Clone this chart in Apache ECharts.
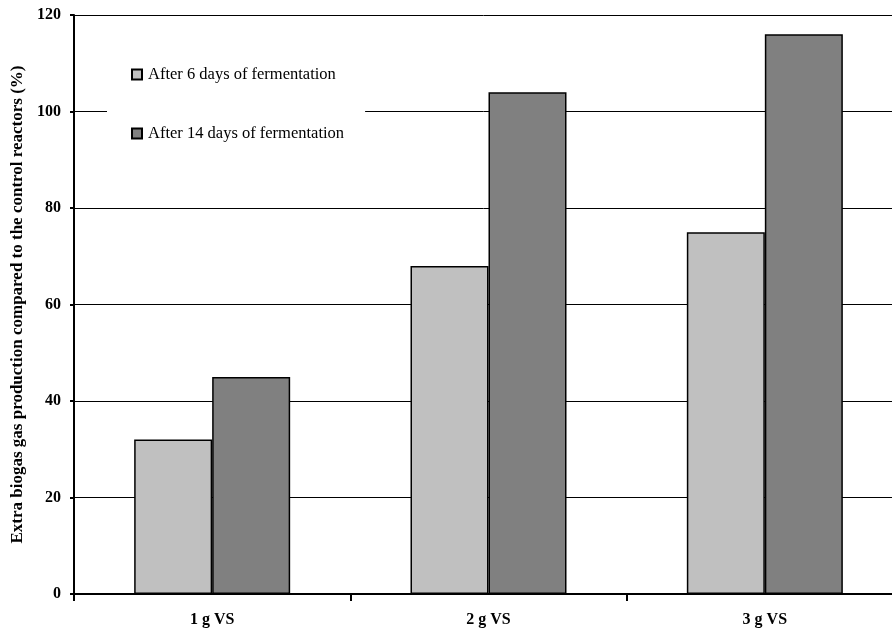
<!DOCTYPE html>
<html><head><meta charset="utf-8">
<script src="https://cdn.jsdelivr.net/npm/echarts@6/dist/echarts.min.js"></script>
<style>html,body{margin:0;padding:0;background:#fff}#c{width:892px;height:633px}</style>
</head><body><div id="c"></div>
<script>
const categories = ['1 g VS', '2 g VS', '3 g VS'];
const after6 = [32, 68, 75];
const after14 = [45, 104, 116];
const seriesNames = ['After 6 days of fermentation', 'After 14 days of fermentation'];
const yName = 'Extra biogas gas production compared to the control reactors (%)';

const font = "'Liberation Serif','Times New Roman',serif";
const chart = echarts.init(document.getElementById('c'), null, {renderer: 'canvas'});
chart.setOption({
  animation: false,
  backgroundColor: '#fff',
  textStyle: {fontFamily: font},
  grid: {left: 74, top: 15, right: -11, bottom: 39, containLabel: false, outerBoundsMode: 'none'},
  legend: {
    orient: 'vertical', left: 107, top: 52,
    backgroundColor: '#fff',
    padding: [14, 21, 14, 24],
    itemGap: 42, itemWidth: 10, itemHeight: 10,
    icon: 'rect',
    itemStyle: {borderColor: '#000', borderWidth: 2},
    textStyle: {fontFamily: font, fontSize: 16.5, color: '#000', padding: [0, 0, 0, 1]},
    data: seriesNames
  },
  xAxis: {
    type: 'category', data: categories,
    axisLine: {lineStyle: {color: '#000', width: 2}},
    axisTick: {show: true, length: 7, lineStyle: {color: '#000', width: 2}},
    axisLabel: {fontFamily: font, fontWeight: 'bold', fontSize: 16, color: '#000', margin: 18}
  },
  yAxis: {
    type: 'value', min: 0, max: 120, interval: 20,
    name: yName, nameLocation: 'middle', nameGap: 46,
    nameTextStyle: {fontFamily: font, fontWeight: 'bold', fontSize: 17, color: '#000'},
    axisLine: {show: true, lineStyle: {color: '#000', width: 2}},
    axisTick: {show: true, length: 4, lineStyle: {color: '#000', width: 2}},
    axisLabel: {fontFamily: font, fontWeight: 'bold', fontSize: 16, color: '#000', margin: 13},
    splitLine: {lineStyle: {color: '#000', width: 1}}
  },
  series: [
    {name: seriesNames[0], type: 'bar', data: after6, barWidth: 78, barGap: '0%',
     itemStyle: {color: '#C0C0C0', borderColor: '#000', borderWidth: 1.5}},
    {name: seriesNames[1], type: 'bar', data: after14, barWidth: 78, barGap: '0%',
     itemStyle: {color: '#808080', borderColor: '#000', borderWidth: 1.5}}
  ]
});
</script></body></html>
